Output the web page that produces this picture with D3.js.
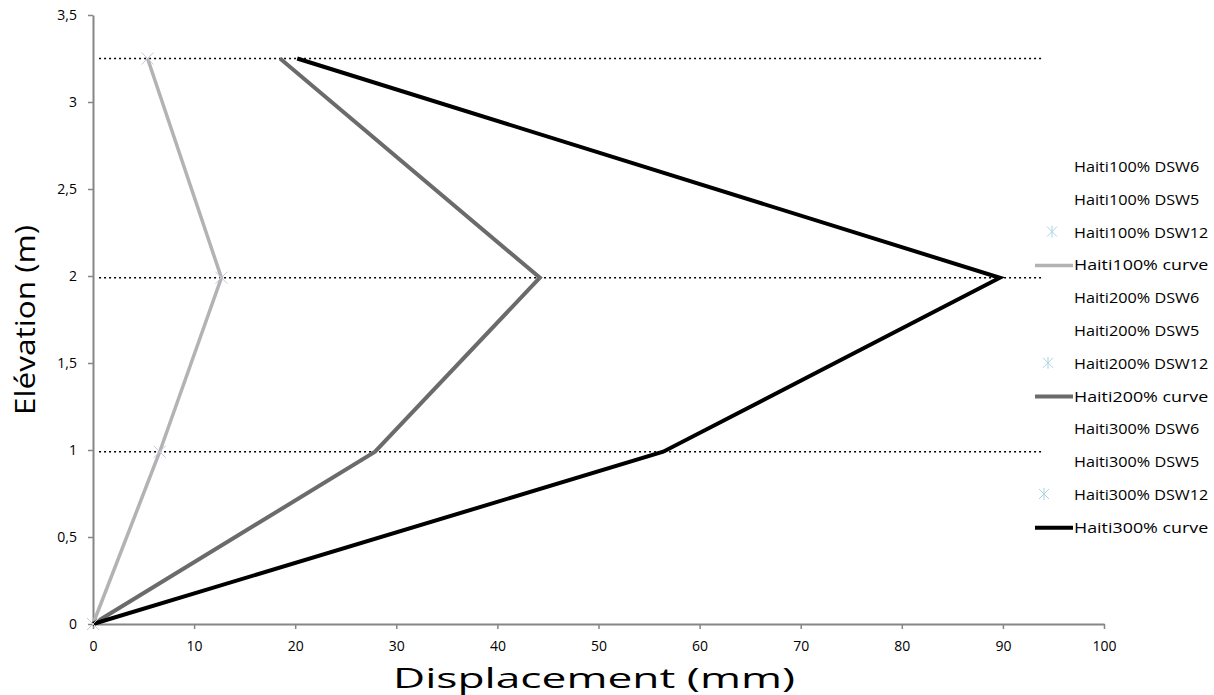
<!DOCTYPE html>
<html>
<head>
<meta charset="utf-8">
<script src="https://cdn.jsdelivr.net/npm/d3@7"></script>
<style>
  body { margin: 0; background: #fff; }
  text { font-family: "Open Sans", "Noto Sans", sans-serif; fill: #000; }
</style>
</head>
<body>
<div id="chart"></div>
<script>
// chart values
var elevations = [0, 0.99, 1.99, 3.25];
var disp100 = [0, 6.6, 12.7, 5.4];
var disp200 = [0, 27.9, 44.2, 18.5];
var disp300 = [0, 56.4, 89.7, 20.2];
var floorLevels = [0.99, 1.99, 3.25];
var floorSpan = [0.6, 94];
var xTicks = [0, 10, 20, 30, 40, 50, 60, 70, 80, 90, 100];
var yTicks = [0, 0.5, 1, 1.5, 2, 2.5, 3, 3.5];
var legendNames = ["Haiti100% DSW6", "Haiti100% DSW5", "Haiti100% DSW12", "Haiti100% curve",
                   "Haiti200% DSW6", "Haiti200% DSW5", "Haiti200% DSW12", "Haiti200% curve",
                   "Haiti300% DSW6", "Haiti300% DSW5", "Haiti300% DSW12", "Haiti300% curve"];

var W = 1214, H = 695;
var margin = { top: 15, right: 110, bottom: 71, left: 93 };

var svg = d3.select("#chart").append("svg")
    .attr("width", W)
    .attr("height", H);

var x = d3.scaleLinear().domain([0, 100]).range([margin.left, 1104]);
var y = d3.scaleLinear().domain([0, 3.5]).range([624, margin.top]);

var fmt = function (d) { return String(d).replace(".", ","); };

// axes
var gx = svg.append("g")
    .attr("transform", "translate(0," + y(0) + ")")
    .call(d3.axisBottom(x).tickValues(xTicks).tickSize(5).tickSizeOuter(0).tickFormat(fmt));
var gy = svg.append("g")
    .attr("transform", "translate(" + x(0) + ",0)")
    .call(d3.axisLeft(y).tickValues(yTicks).tickSize(5).tickSizeOuter(0).tickFormat(fmt));

[gx, gy].forEach(function (g) {
    g.select(".domain").attr("stroke", "#868686").attr("stroke-width", 2);
    g.selectAll(".tick line").attr("stroke", "#868686").attr("stroke-width", 1.5);
    g.selectAll(".tick text").style("font-size", "14px").attr("fill", "#000");
});
gx.selectAll(".tick text").attr("y", 13).attr("dy", "1em");
gy.selectAll(".tick text").attr("x", -16);

// dotted floor lines
svg.append("g").selectAll(".floor")
    .data(floorLevels)
    .enter()
    .append("line")
    .attr("class", "floor")
    .attr("x1", x(floorSpan[0]))
    .attr("x2", x(floorSpan[1]))
    .attr("y1", function (d) { return y(d); })
    .attr("y2", function (d) { return y(d); })
    .attr("stroke", "#000")
    .attr("stroke-width", 1.3)
    .attr("stroke-dasharray", "2,3");

// curves
var curves = [
    { name: "Haiti100% curve", vals: disp100, color: "#b3b3b3", width: 3.5 },
    { name: "Haiti200% curve", vals: disp200, color: "#6b6b6b", width: 4 },
    { name: "Haiti300% curve", vals: disp300, color: "#000000", width: 4 }
];

var line = d3.line()
    .x(function (d) { return x(d[0]); })
    .y(function (d) { return y(d[1]); });

svg.append("g").selectAll(".curve")
    .data(curves)
    .enter()
    .append("path")
    .attr("class", "curve")
    .attr("fill", "none")
    .attr("stroke", function (d) { return d.color; })
    .attr("stroke-width", function (d) { return d.width; })
    .attr("stroke-linejoin", "miter")
    .attr("d", function (d) {
        return line(d.vals.map(function (v, i) { return [v, elevations[i]]; }));
    });

// faint cross markers on the 100% curve
var crossPath = "M-6,-6L6,6M-6,6L6,-6";
svg.append("g").selectAll(".mk")
    .data(disp100.map(function (v, i) { return [v, elevations[i]]; }))
    .enter()
    .append("path")
    .attr("class", "mk")
    .attr("d", crossPath)
    .attr("transform", function (d) { return "translate(" + x(d[0]) + "," + y(d[1]) + ")"; })
    .attr("stroke", "#c9c9dc")
    .attr("stroke-width", 1);

// legend
var lg = svg.append("g");
var rowY = function (i) { return 167 + i * 32.8; };

lg.selectAll(".lt")
    .data(legendNames)
    .enter()
    .append("text")
    .attr("class", "lt")
    .attr("x", 1074)
    .attr("y", function (d, i) { return rowY(i); })
    .attr("dy", "0.36em")
    .style("font-size", "14px")
    .attr("textLength", function (d) { return d.length * 8.95; })
    .attr("lengthAdjust", "spacingAndGlyphs")
    .text(function (d) { return d; });

legendNames.forEach(function (name, i) {
    var cy = rowY(i);
    if (name.indexOf("DSW12") >= 0) {
        var cx = 1052 - Math.floor(i / 4) * 4;
        lg.append("path")
            .attr("d", "M-5,-5L5,5M-5,5L5,-5M0,-6L0,6")
            .attr("transform", "translate(" + cx + "," + (cy - 1) + ")")
            .attr("stroke", "#a9d4e4")
            .attr("stroke-width", 1);
    }
    var c = curves.filter(function (d) { return d.name === name; })[0];
    if (c) {
        lg.append("line")
            .attr("x1", 1035).attr("x2", 1073)
            .attr("y1", cy).attr("y2", cy)
            .attr("stroke", c.color)
            .attr("stroke-width", c.width);
    }
});

// axis titles
svg.append("text")
    .attr("x", 393)
    .attr("y", 688)
    .style("font-size", "28px")
    .attr("textLength", 402)
    .attr("lengthAdjust", "spacingAndGlyphs")
    .text("Displacement (mm)");

svg.append("text")
    .attr("transform", "translate(35,415) rotate(-90)")
    .style("font-size", "27px")
    .attr("textLength", 190)
    .attr("lengthAdjust", "spacingAndGlyphs")
    .text("Elévation (m)");
</script>
</body>
</html>
